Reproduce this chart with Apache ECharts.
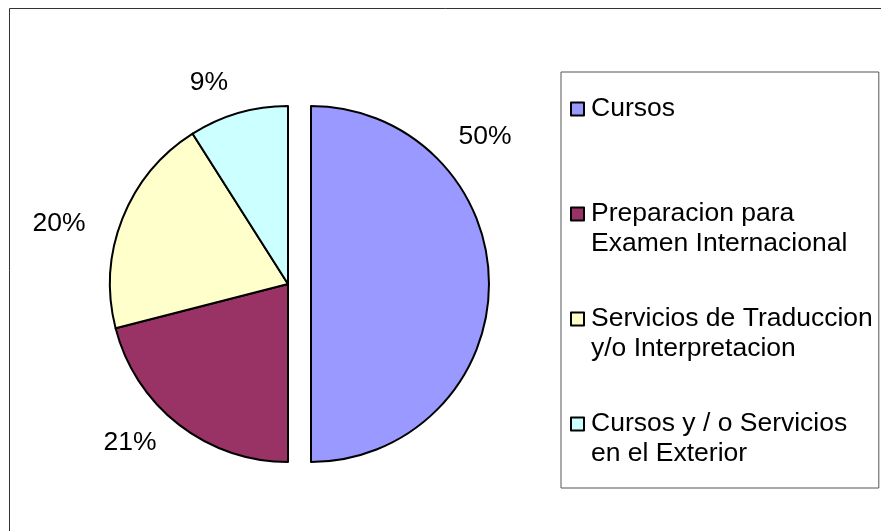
<!DOCTYPE html>
<html><head><meta charset="utf-8">
<script src="https://cdn.jsdelivr.net/npm/echarts@6/dist/echarts.min.js"></script>
<style>html,body{margin:0;padding:0;background:#fff}#c{width:881px;height:531px}</style>
</head><body><div id="c"></div>
<script>
// ---- data ----
const categories = [
  'Cursos',
  'Preparacion para\nExamen Internacional',
  'Servicios de Traduccion\ny/o Interpretacion',
  'Cursos y / o Servicios\nen el Exterior'
];
const values = [50, 21, 20, 9];

// ---- styles / layout ----
const colors = ['#9999FF', '#993366', '#FFFFCC', '#CCFFFF'];
const exploded = [true, false, false, false];          // slice pulled out of the pie
const labelOffsets = [[174, -147], [-158, 159], [-229, -60], [-79, -201]]; // from each slice's own centre
const CX = 288, CY = 284, R = 178, EXPLODE = 23;
const FONT = '"Liberation Sans", Arial, sans-serif';
const FS = 26.5, LH = 30;

function pieSeries(explodedPart) {
  const cx = explodedPart ? CX + EXPLODE : CX;
  return {
    type: 'pie',
    center: [cx, CY],
    radius: R,
    startAngle: 90,
    clockwise: true,
    avoidLabelOverlap: false,
    emphasis: {disabled: true},
    label: {
      show: true, position: 'outside', formatter: '{c}%',
      fontFamily: FONT, fontSize: FS, color: '#000'
    },
    labelLine: {show: false},
    labelLayout: function (p) {
      const o = labelOffsets[p.dataIndex];
      return {x: cx + o[0], y: CY + o[1], align: 'center', verticalAlign: 'middle'};
    },
    data: categories.map(function (n, i) {
      const visible = exploded[i] === explodedPart;
      return {
        name: n, value: values[i],
        silent: !visible,
        itemStyle: visible
          ? {color: colors[i], borderColor: '#000', borderWidth: 2}
          : {color: 'rgba(0,0,0,0)', borderWidth: 0},
        label: {show: visible}
      };
    })
  };
}

const chart = echarts.init(document.getElementById('c'), null, {renderer: 'canvas'});
chart.setOption({
  animation: false,
  backgroundColor: '#fff',
  graphic: [{
    type: 'rect', silent: true, z: -1,
    shape: {x: 9.5, y: 8.5, width: 1000, height: 1000},
    style: {fill: 'none', stroke: '#333', lineWidth: 1}
  }],
  legend: {
    orient: 'vertical',
    left: 561, top: 72,
    padding: [-8, 6, 19, 9],
    itemGap: 15,
    itemWidth: 13, itemHeight: 13,
    icon: 'rect',
    selectedMode: false,
    borderColor: '#555', borderWidth: 1,
    // first text line sits beside the marker: pad each entry to three lines
    formatter: function (name) {
      return name.indexOf('\n') >= 0 ? '\n' + name : '\n' + name + '\n';
    },
    textStyle: {fontFamily: FONT, fontSize: FS, lineHeight: LH, color: '#000', padding: [0, 0, 0, 2]},
    data: categories.map(function (n, i) {
      return {name: n, itemStyle: {color: colors[i], borderColor: '#000', borderWidth: 2}};
    })
  },
  series: [pieSeries(false), pieSeries(true)]
});
</script>
</body></html>
